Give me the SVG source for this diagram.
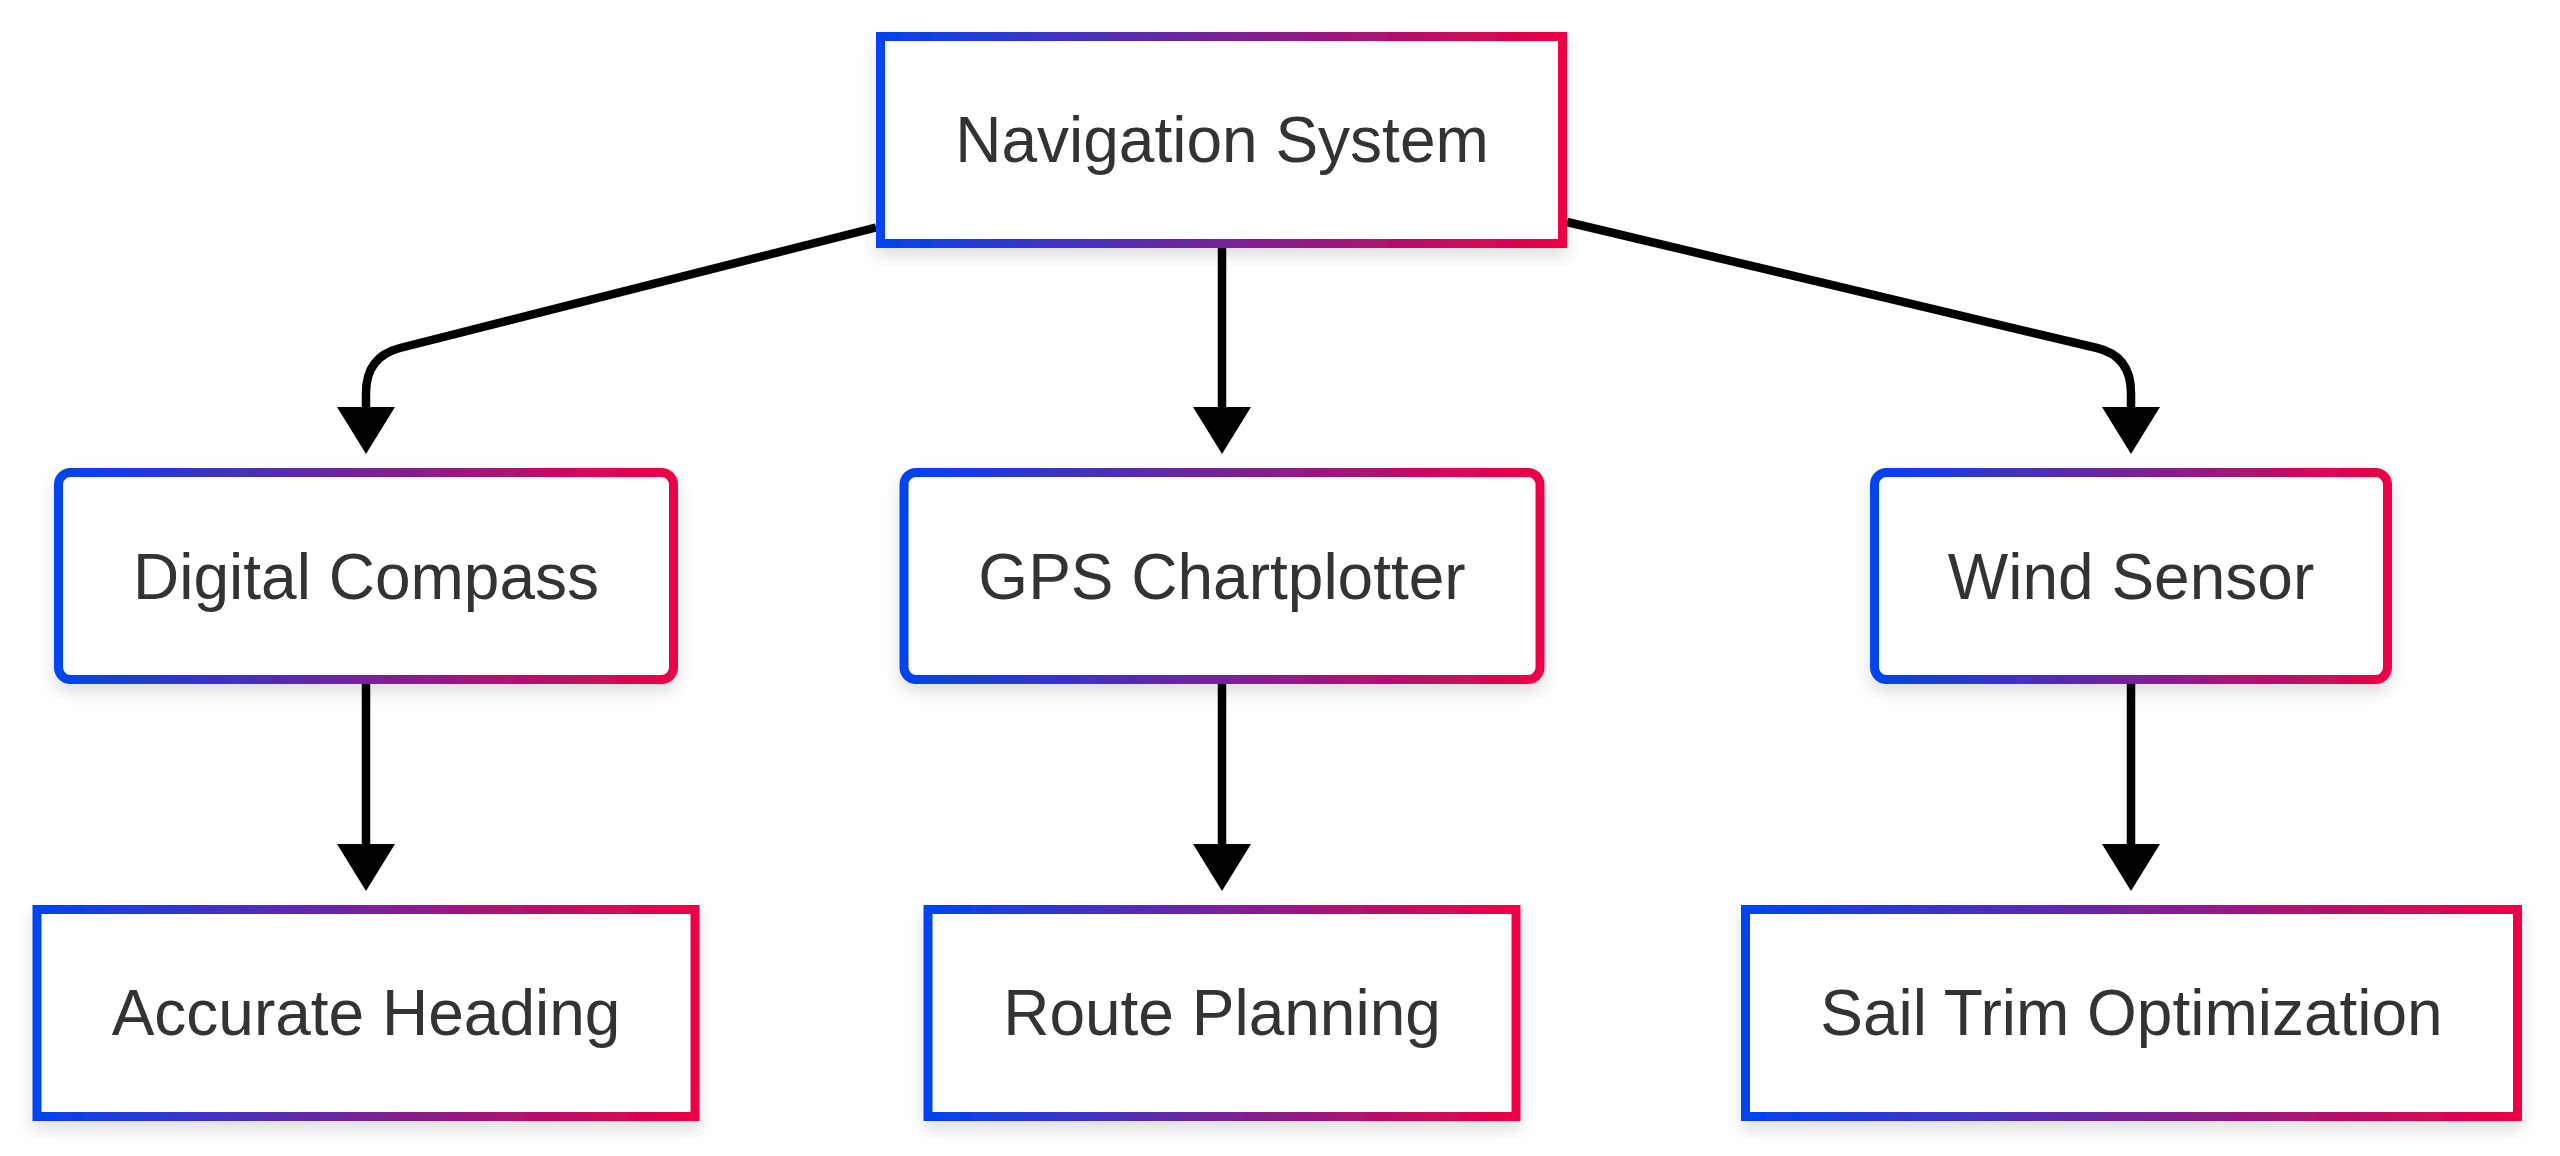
<svg xmlns="http://www.w3.org/2000/svg" width="2560" height="1156" viewBox="0 0 2560 1156">
<defs>
<linearGradient id="grad" x1="0" y1="0" x2="1" y2="0">
<stop offset="0" stop-color="#0044ee"/>
<stop offset="1" stop-color="#ee0044"/>
</linearGradient>
<filter id="shadow" x="-10%" y="-20%" width="120%" height="150%">
<feDropShadow dx="0" dy="8" stdDeviation="8" flood-color="#000" flood-opacity="0.13"/>
</filter>
<marker id="arrow" markerUnits="userSpaceOnUse" markerWidth="47" markerHeight="58" viewBox="0 0 47 58" refX="13" refY="29" orient="auto">
<path d="M0,0 L47,29 L0,58 Z" fill="#000"/>
</marker>
</defs>
<style>
.box{fill:#fff;stroke:url(#grad);stroke-width:9;filter:url(#shadow)}
.lbl{font-family:"Liberation Sans",Arial,sans-serif;font-size:64px;fill:#333;text-anchor:middle}
.edge{fill:none;stroke:#000;stroke-width:8.5;marker-end:url(#arrow)}
</style>
<rect width="2560" height="1156" fill="#fff"/>
<g id="connectors">
<path class="edge" d="M876,227.5 L400,348 Q366,356.6 366,393 L366,420"/>
<path class="edge" d="M1222,247 L1222,420"/>
<path class="edge" d="M1567,222 L2097,348 Q2131,356 2131,393 L2131,420"/>
<path class="edge" d="M366,684 L366,857"/>
<path class="edge" d="M1222,684 L1222,857"/>
<path class="edge" d="M2131,684 L2131,857"/>
</g>
<g id="node-nav">
<rect class="box" x="880.5" y="36.5" width="682" height="207"/>
<text class="lbl" x="1222" y="162">Navigation System</text>
</g>
<g id="node-compass">
<rect class="box" x="58.5" y="472.5" width="615" height="207" rx="12"/>
<text class="lbl" x="366" y="599">Digital Compass</text>
</g>
<g id="node-gps">
<rect class="box" x="904" y="472.5" width="636" height="207" rx="12"/>
<text class="lbl" x="1222" y="599">GPS Chartplotter</text>
</g>
<g id="node-wind">
<rect class="box" x="1874.5" y="472.5" width="513" height="207" rx="12"/>
<text class="lbl" x="2131" y="599">Wind Sensor</text>
</g>
<g id="node-heading">
<rect class="box" x="37" y="909.5" width="658" height="207"/>
<text class="lbl" x="366" y="1035">Accurate Heading</text>
</g>
<g id="node-route">
<rect class="box" x="928" y="909.5" width="588" height="207"/>
<text class="lbl" x="1222" y="1035">Route Planning</text>
</g>
<g id="node-sail">
<rect class="box" x="1745.5" y="909.5" width="772" height="207"/>
<text class="lbl" x="2131.5" y="1035">Sail Trim Optimization</text>
</g>
</svg>
